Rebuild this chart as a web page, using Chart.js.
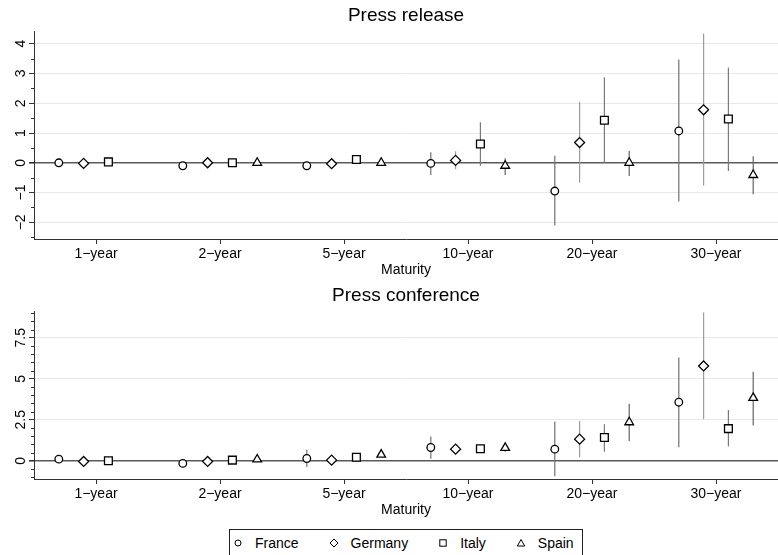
<!DOCTYPE html>
<html>
<head>
<meta charset="utf-8">
<script src="https://cdn.jsdelivr.net/npm/chart.js@4.4.1/dist/chart.umd.min.js"></script>
<style>
  html, body { margin: 0; padding: 0; background: #fff; overflow: hidden; }
  #wrap { position: relative; width: 778px; height: 555px; overflow: hidden; font-family: "Liberation Sans", Arial, sans-serif; }
  #c1 { position: absolute; left: 0; top: 0; }
  #c2 { position: absolute; left: 0; top: 280px; }
  #legend { position: absolute; left: 229px; top: 529px; width: 354px; height: 30px; border: 1px solid #222; box-sizing: border-box;
            display: flex; align-items: center; padding-left: 3px; font-size: 14px; color: #000; padding-bottom: 2px; }
  .item { display: flex; align-items: center; margin-right: 30px; }
  .item svg { width: 10px; height: 10px; }
  .item span { margin-left: 12px; }
</style>
</head>
<body>
<div id="wrap">
  <canvas id="c1" width="778" height="280"></canvas>
  <canvas id="c2" width="778" height="240"></canvas>
  <div id="legend"></div>
</div>
<script>
// ---------------- DATA ----------------
const categories = ['1\u2212year', '2\u2212year', '5\u2212year', '10\u2212year', '20\u2212year', '30\u2212year'];
const countries = ['France', 'Germany', 'Italy', 'Spain'];

// Press release: point estimates and confidence bounds
const francePR     = [ 0.00, -0.10, -0.10, -0.02, -0.95,  1.07];
const francePRLo   = [-0.05, -0.15, -0.20, -0.41, -2.11, -1.30];
const francePRHi   = [ 0.05, -0.05,  0.00,  0.35,  0.24,  3.47];
const germanyPR    = [-0.02,  0.00, -0.03,  0.08,  0.68,  1.78];
const germanyPRLo  = [-0.07, -0.05, -0.10, -0.22, -0.67, -0.76];
const germanyPRHi  = [ 0.03,  0.05,  0.04,  0.39,  2.05,  4.34];
const italyPR      = [ 0.03,  0.00,  0.11,  0.63,  1.43,  1.47];
const italyPRLo    = [-0.02, -0.05,  0.05, -0.10,  0.00, -0.28];
const italyPRHi    = [ 0.08,  0.05,  0.17,  1.36,  2.87,  3.20];
const spainPR      = [ null,  0.00,  0.00, -0.10,  0.00, -0.41];
const spainPRLo    = [ null, -0.05, -0.05, -0.41, -0.44, -1.06];
const spainPRHi    = [ null,  0.05,  0.05,  0.15,  0.40,  0.22];

// Press conference
const francePC     = [ 0.10, -0.16,  0.14,  0.81,  0.71,  3.57];
const francePCLo   = [ 0.00, -0.26, -0.38,  0.12, -0.95,  0.83];
const francePCHi   = [ 0.20, -0.06,  0.67,  1.48,  2.39,  6.30];
const germanyPC    = [-0.04, -0.04,  0.04,  0.71,  1.32,  5.78];
const germanyPCLo  = [-0.14, -0.14, -0.06,  0.55,  0.22,  2.55];
const germanyPCHi  = [ 0.06,  0.06,  0.14,  0.87,  2.43,  9.04];
const italyPC      = [ 0.00,  0.04,  0.22,  0.73,  1.42,  1.96];
const italyPCLo    = [-0.10, -0.06,  0.10,  0.60,  0.55,  0.87];
const italyPCHi    = [ 0.10,  0.14,  0.34,  0.86,  2.23,  3.10];
const spainPC      = [ null,  0.08,  0.38,  0.79,  2.35,  3.83];
const spainPCLo    = [ null, -0.02,  0.28,  0.55,  1.20,  2.15];
const spainPCHi    = [ null,  0.18,  0.48,  1.05,  3.47,  5.43];

// Axis ticks
const yTicksTop = [-2, -1, 0, 1, 2, 3, 4];
const yMinorTop = [-2.5, -1.5, -0.5, 0.5, 1.5, 2.5, 3.5];
const yTicksBottom = [0, 2.5, 5, 7.5];
const yMinorBottom = [-1, -0.5, 0.5, 1, 1.5, 2, 3, 3.5, 4, 4.5, 5.5, 6, 6.5, 7, 8, 8.5, 9];

// ---------------- STYLE ----------------
const FONT = '"Liberation Sans", Arial, sans-serif';
const offsets = [-0.3, -0.1, 0.1, 0.3];
const pointStyles = ['circle', 'rectRot', 'rect', 'triangle'];
const pointRadii = [3.8, 5, 5.5, 5];
const errColors = ['#707070', '#9c9c9c', '#7a7a7a', '#626262'];

function buildDatasets(series) {
  const errSets = [], markSets = [];
  series.forEach((s, i) => {
    const errData = [], markData = [];
    s.val.forEach((v, j) => {
      if (v === null) return;
      const x = j + 1 + offsets[i];
      errData.push({x: x, y: s.lo[j]}, {x: x, y: s.hi[j]}, {x: x, y: null});
      markData.push({x: x, y: v});
    });
    errSets.push({
      type: 'line', label: countries[i] + ' CI', data: errData,
      borderColor: errColors[i], borderWidth: 1.2, pointRadius: 0, spanGaps: false,
      fill: false, order: 2
    });
    markSets.push({
      type: 'scatter', label: countries[i], data: markData,
      pointStyle: pointStyles[i], pointRadius: pointRadii[i], pointHoverRadius: pointRadii[i],
      borderColor: '#000', backgroundColor: '#fff', pointBorderWidth: 1.3, borderWidth: 1.3, order: 1
    });
  });
  return errSets.concat(markSets);
}

function fmt(v) { return String(v).replace('-', '\u2212'); }

const stataAxis = {
  id: 'stataAxis',
  afterDraw(chart, args, opts) {
    const y = chart.scales.y, ctx = chart.ctx;
    ctx.save();
    ctx.strokeStyle = '#333'; ctx.lineWidth = 1;
    opts.minor.forEach(v => {
      const p = Math.round(y.getPixelForValue(v)) + 0.5;
      ctx.beginPath(); ctx.moveTo(chart.chartArea.left - 3, p); ctx.lineTo(chart.chartArea.left, p); ctx.stroke();
    });
    ctx.fillStyle = '#000'; ctx.font = '14px ' + FONT;
    ctx.textAlign = 'center'; ctx.textBaseline = 'middle';
    opts.major.forEach(v => {
      const p = y.getPixelForValue(v);
      ctx.save(); ctx.translate(21, p); ctx.rotate(-Math.PI / 2);
      ctx.fillText(fmt(v), 0, 0); ctx.restore();
    });
    ctx.restore();
  }
};

function makeChart(canvasId, title, series, yMin, yMax, majors, minors) {
  return new Chart(document.getElementById(canvasId), {
    type: 'scatter',
    data: { datasets: buildDatasets(series) },
    plugins: [stataAxis],
    options: {
      responsive: false, animation: false, devicePixelRatio: 1,
      layout: { padding: 0, autoPadding: false },
      plugins: {
        legend: { display: false },
        tooltip: { enabled: false },
        title: { display: true, text: title, fullSize: false, color: '#000',
                 font: { family: FONT, size: 19, weight: 'normal' }, padding: { top: 4, bottom: 5 } },
        stataAxis: { major: majors, minor: minors }
      },
      scales: {
        x: {
          type: 'linear', min: 0.5, max: 6.5,
          afterBuildTicks: s => { s.ticks = categories.map((c, i) => ({ value: i + 1 })); },
          afterFit: s => { s.height = 41; },
          ticks: { autoSkip: false, maxRotation: 0, color: '#000', padding: 2,
                   font: { family: FONT, size: 14 },
                   callback: v => categories[Math.round(v) - 1] },
          grid: { drawOnChartArea: false, drawTicks: true, tickLength: 5, color: '#333', tickColor: '#333' },
          border: { display: true, color: '#333', width: 1 },
          title: { display: true, text: 'Maturity', color: '#000', font: { family: FONT, size: 14 },
                   padding: { top: 0, bottom: 1 } }
        },
        y: {
          type: 'linear', min: yMin, max: yMax,
          afterBuildTicks: s => { s.ticks = majors.map(v => ({ value: v })); },
          afterFit: s => { s.width = 34; },
          ticks: { display: false },
          grid: {
            drawTicks: true, tickLength: 5, tickColor: '#333',
            color: c => (c.tick && c.tick.value === 0) ? '#5a5a5a' : '#e8e8e8',
            lineWidth: c => (c.tick && c.tick.value === 0) ? 1.6 : 1
          },
          border: { display: true, color: '#333', width: 1 }
        }
      }
    }
  });
}

makeChart('c1', 'Press release', [
  { val: francePR, lo: francePRLo, hi: francePRHi },
  { val: germanyPR, lo: germanyPRLo, hi: germanyPRHi },
  { val: italyPR, lo: italyPRLo, hi: italyPRHi },
  { val: spainPR, lo: spainPRLo, hi: spainPRHi }
], -2.56, 4.4, yTicksTop, yMinorTop);

makeChart('c2', 'Press conference', [
  { val: francePC, lo: francePCLo, hi: francePCHi },
  { val: germanyPC, lo: germanyPCLo, hi: germanyPCHi },
  { val: italyPC, lo: italyPCLo, hi: italyPCHi },
  { val: spainPC, lo: spainPCLo, hi: spainPCHi }
], -1.11, 9.08, yTicksBottom, yMinorBottom);

// Legend (HTML)
const legendSvgs = [
  '<svg viewBox="0 0 10 10"><circle cx="5" cy="5" r="3" fill="#fff" stroke="#000" stroke-width="1"/></svg>',
  '<svg viewBox="0 0 10 10"><polygon points="5,1 9,5 5,9 1,5" fill="#fff" stroke="#000" stroke-width="1"/></svg>',
  '<svg viewBox="0 0 10 10"><rect x="1.8" y="1.8" width="6.4" height="6.4" fill="#fff" stroke="#000" stroke-width="1"/></svg>',
  '<svg viewBox="0 0 10 10"><polygon points="5,1.5 8.7,8 1.3,8" fill="#fff" stroke="#000" stroke-width="1"/></svg>'
];
document.getElementById('legend').innerHTML = countries.map((c, i) =>
  '<div class="item">' + legendSvgs[i] + '<span>' + c + '</span></div>').join('');
</script>
</body>
</html>
